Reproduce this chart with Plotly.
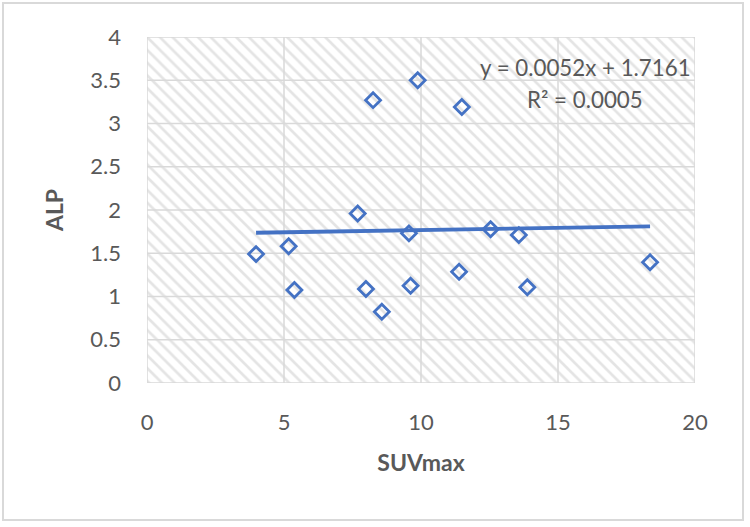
import plotly.graph_objects as go

# Data
suvmax = [3.98, 5.17, 5.38, 7.69, 7.99, 8.25, 8.57, 9.56, 9.62, 9.88, 11.39, 11.49, 12.54, 13.57, 13.88, 18.36]
alp    = [1.49, 1.58, 1.075, 1.96, 1.087, 3.27, 0.824, 1.73, 1.125, 3.50, 1.287, 3.19, 1.777, 1.71, 1.106, 1.395]

slope = 0.0052
intercept = 1.7161
r_squared = 0.0005

x_ticks = [0, 5, 10, 15, 20]
y_ticks = [0, 0.5, 1, 1.5, 2, 2.5, 3, 3.5, 4]
y_tick_labels = ["0", "0.5", "1", "1.5", "2", "2.5", "3", "3.5", "4"]

BLUE = "#4472C4"
GRID = "#d9d9d9"
TXT = "#595959"
FONT = "Lato, 'Open Sans', sans-serif"

X_RANGE = [0, 20]
Y_RANGE = [0, 4]

fig = go.Figure()

# Hatched plot-area background
fig.add_trace(go.Scatter(
    x=[X_RANGE[0], X_RANGE[1], X_RANGE[1], X_RANGE[0], X_RANGE[0]],
    y=[Y_RANGE[0], Y_RANGE[0], Y_RANGE[1], Y_RANGE[1], Y_RANGE[0]],
    mode="lines", line=dict(width=0), fill="toself",
    fillcolor="white",
    fillpattern=dict(shape="\\", fgcolor="#c9c9c9", bgcolor="white", size=9, solidity=0.3),
    hoverinfo="skip", showlegend=False,
))

# Gridlines drawn over the hatching (as a trace so they sit under the data)
gx, gy = [], []
for v in x_ticks:
    gx += [v, v, None]
    gy += [Y_RANGE[0], Y_RANGE[1], None]
for v in y_ticks:
    gx += [X_RANGE[0], X_RANGE[1], None]
    gy += [v, v, None]
fig.add_trace(go.Scatter(
    x=gx, y=gy, mode="lines", line=dict(color=GRID, width=1.5),
    hoverinfo="skip", showlegend=False,
))

# Trendline (linear, from displayed equation)
x0, x1 = min(suvmax), max(suvmax)
fig.add_trace(go.Scatter(
    x=[x0, x1], y=[slope * x0 + intercept, slope * x1 + intercept],
    mode="lines", line=dict(color=BLUE, width=3.8), showlegend=False,
))

# Scatter points
fig.add_trace(go.Scatter(
    x=suvmax, y=alp, mode="markers",
    marker=dict(symbol="diamond-open", size=11.5, color=BLUE, line=dict(width=2.8, color=BLUE)),
    showlegend=False,
))

fig.update_layout(
    width=750, height=527,
    margin=dict(l=147, r=55, t=37, b=144),
    paper_bgcolor="white", plot_bgcolor="white",
    font=dict(family=FONT, color=TXT, size=22),
    xaxis=dict(
        range=X_RANGE, tickvals=x_ticks, ticktext=[str(v) for v in x_ticks],
        showgrid=False, showline=False, zeroline=False, ticks="",
        ticklabelstandoff=24,
        tickfont=dict(size=22, color=TXT, family=FONT),
        title=dict(text="<b>SUVmax</b>", font=dict(size=23, color=TXT, family=FONT), standoff=20),
    ),
    yaxis=dict(
        range=Y_RANGE, tickvals=y_ticks, ticktext=y_tick_labels,
        showgrid=False, showline=False, zeroline=False, ticks="",
        ticklabelstandoff=25,
        tickfont=dict(size=22, color=TXT, family=FONT),
        title=dict(text="<b>ALP</b>", font=dict(size=23, color=TXT, family=FONT), standoff=20),
    ),
    annotations=[
        dict(x=16.0, y=3.65, xref="x", yref="y", showarrow=False,
             text=f"y = {slope:.4f}x + {intercept:.4f}",
             font=dict(size=22.3, color=TXT, family=FONT)),
        dict(x=16.0, y=3.275, xref="x", yref="y", showarrow=False,
             text=f"R² = {r_squared:.4f}",
             font=dict(size=22.3, color=TXT, family=FONT)),
    ],
    shapes=[dict(
        type="rect", xref="paper", yref="paper",
        x0=(3 - 147) / 548, x1=(743 - 147) / 548,
        y0=(383 - 520) / 346, y1=(383 - 3) / 346,
        line=dict(color=GRID, width=2), fillcolor="rgba(0,0,0,0)", layer="below",
    )],
)

fig.write_html("out.html")
